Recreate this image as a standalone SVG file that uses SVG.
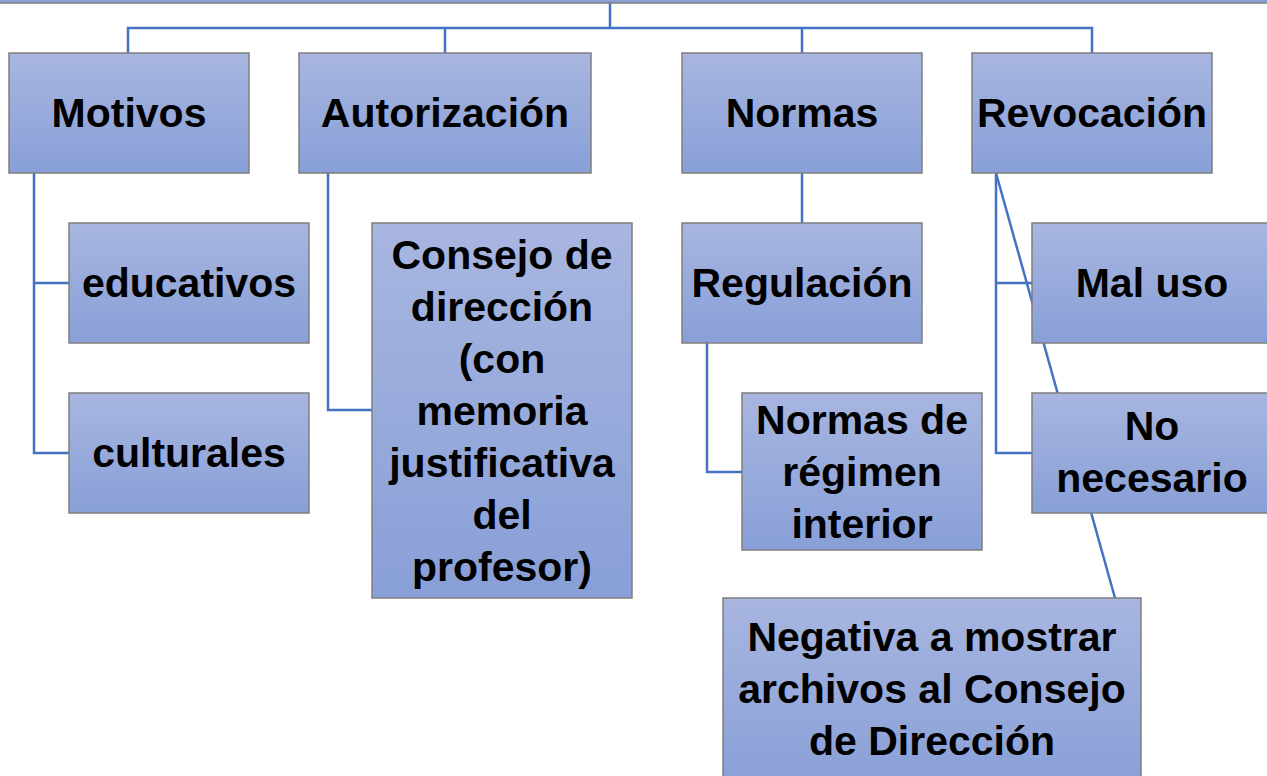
<svg xmlns="http://www.w3.org/2000/svg" width="1267" height="776" viewBox="0 0 1267 776">
<defs>
<linearGradient id="g" x1="0" y1="0" x2="0" y2="1">
<stop offset="0" stop-color="#A8B6E0"/>
<stop offset="1" stop-color="#889FD7"/>
</linearGradient>
<style>
.box{fill:url(#g);stroke:#7F7F7F;stroke-width:1.5}
.t{font-family:"Liberation Sans",Arial,sans-serif;font-weight:bold;font-size:41px;fill:#000;text-anchor:middle}
.c{fill:none;stroke:#4472C4;stroke-width:2.5}
</style>
</defs>
<rect width="1267" height="776" fill="#fff"/>
<g id="connectors">
<path class="c" d="M610,2 V28 M128,53 V28 H1092 V53 M445,28 V53 M802,28 V53"/>
<path class="c" d="M34,173 V453 H69 M34,283 H69"/>
<path class="c" d="M328,173 V410 H372"/>
<path class="c" d="M802,173 V223"/>
<path class="c" d="M707,343 V472 H742"/>
<path class="c" d="M996,173 V453 H1032 M996,283 H1032"/>
<path class="c" d="M996,173 L1115,598"/>
</g>
<g id="root"><rect class="box" x="-5" y="-100" width="1277" height="103"/></g>
<g id="motivos"><rect class="box" x="9" y="53" width="240" height="120"/><text class="t" x="129" y="127">Motivos</text></g>
<g id="autorizacion"><rect class="box" x="299" y="53" width="292" height="120"/><text class="t" x="445" y="127">Autorización</text></g>
<g id="normas"><rect class="box" x="682" y="53" width="240" height="120"/><text class="t" x="802" y="127">Normas</text></g>
<g id="revocacion"><rect class="box" x="972" y="53" width="240" height="120"/><text class="t" x="1092" y="127">Revocación</text></g>
<g id="educativos"><rect class="box" x="69" y="223" width="240" height="120"/><text class="t" x="189" y="297">educativos</text></g>
<g id="culturales"><rect class="box" x="69" y="393" width="240" height="120"/><text class="t" x="189" y="467">culturales</text></g>
<g id="consejo"><rect class="box" x="372" y="223" width="260" height="375"/>
<text class="t" x="502" y="269">Consejo de</text>
<text class="t" x="502" y="321">dirección</text>
<text class="t" x="502" y="373">(con</text>
<text class="t" x="502" y="425">memoria</text>
<text class="t" x="502" y="477">justificativa</text>
<text class="t" x="502" y="529">del</text>
<text class="t" x="502" y="581">profesor)</text></g>
<g id="regulacion"><rect class="box" x="682" y="223" width="240" height="120"/><text class="t" x="802" y="297">Regulación</text></g>
<g id="normas-regimen"><rect class="box" x="742" y="393" width="240" height="157"/>
<text class="t" x="862" y="434">Normas de</text>
<text class="t" x="862" y="486">régimen</text>
<text class="t" x="862" y="538">interior</text></g>
<g id="mal-uso"><rect class="box" x="1032" y="223" width="240" height="120"/><text class="t" x="1152" y="297">Mal uso</text></g>
<g id="no-necesario"><rect class="box" x="1032" y="393" width="240" height="120"/>
<text class="t" x="1152" y="440">No</text>
<text class="t" x="1152" y="492">necesario</text></g>
<g id="negativa"><rect class="box" x="723" y="598" width="418" height="190"/>
<text class="t" x="932" y="651">Negativa a mostrar</text>
<text class="t" x="932" y="703">archivos al Consejo</text>
<text class="t" x="932" y="755">de Dirección</text></g>
</svg>
